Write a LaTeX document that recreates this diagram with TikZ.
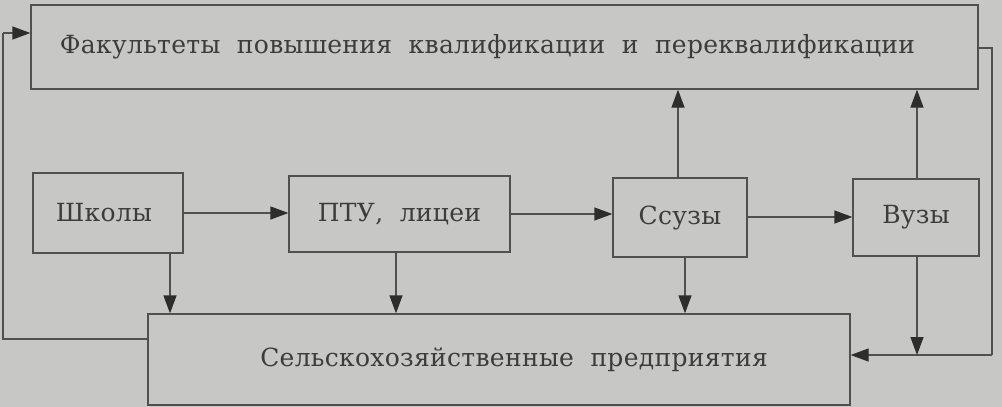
\documentclass[tikz,border=0pt]{standalone}
\usepackage{fontspec}
\setmainfont{DejaVu Serif}[LetterSpace=1.2,WordSpace=2]
\usetikzlibrary{arrows.meta,calc}
\definecolor{bg}{RGB}{199,199,197}
\definecolor{ln}{RGB}{80,80,80}
\definecolor{tx}{RGB}{60,60,60}
\definecolor{tip}{RGB}{45,45,45}
\tikzset{
  box/.style={draw=ln, line width=1.3pt, rectangle, inner sep=0pt, text=tx,
    font=\fontsize{25}{30}\selectfont},
  link/.style={draw=ln, line width=1.3pt},
  arr/.style={link, -{Triangle[length=18pt,width=13pt,fill=tip,color=tip]}},
}
\begin{document}
\begin{tikzpicture}[x=1pt,y=-1pt]
\fill[bg] (0,0) rectangle (1002,407);
\useasboundingbox (0,0) rectangle (1002,407);
\node[box, minimum width=947pt, minimum height=84pt] (top) at (504.5,47)
  {Факультеты повышения квалификации и переквалификации\hspace*{34pt}};
\node[box, minimum width=150pt, minimum height=80pt] (shk) at (108,213) {Школы\hspace*{8pt}};
\node[box, minimum width=221pt, minimum height=76pt] (ptu) at (399.5,214) {ПТУ, лицеи};
\node[box, minimum width=134pt, minimum height=79pt] (ssu) at (680,217.5) {Ссузы};
\node[box, minimum width=126pt, minimum height=77pt] (vuz) at (916,217.5) {Вузы};
\node[box, minimum width=702pt, minimum height=91pt] (bot) at (499,359.5)
  {\hspace*{30pt}Сельскохозяйственные предприятия};
\coordinate (L1) at (3,339);
\coordinate (L2) at (3,33);
\coordinate (R1) at (992,48);
\coordinate (R2) at (992,355);
\draw[link] (bot.west |- L1) -- (L1) -- (L2);
\draw[arr] (L2) -- (top.west |- L2);
\draw[link] (top.east |- R1) -- (R1) -- (R2);
\draw[arr] (R2) -- (bot.east |- R2);
\draw[arr] ([xshift=1pt]vuz.south) -- ([xshift=1pt]vuz.south |- R2);
\draw[arr] (shk.east) -- (ptu.west |- shk.east);
\draw[arr] (ptu.east) -- (ssu.west |- ptu.east);
\draw[arr] ([yshift=0.5pt]ssu.east) -- ([yshift=0.5pt]vuz.west |- ssu.east);
\draw[arr] ([xshift=62pt]shk.south) -- ([xshift=62pt]shk.south |- bot.north);
\draw[arr] ([xshift=-3.5pt]ptu.south) -- ([xshift=-3.5pt]ptu.south |- bot.north);
\draw[arr] ([xshift=5pt]ssu.south) -- ([xshift=5pt]ssu.south |- bot.north);
\draw[arr] ([xshift=-2pt]ssu.north) -- ([xshift=-2pt]ssu.north |- top.south);
\draw[arr] ([xshift=1pt]vuz.north) -- ([xshift=1pt]vuz.north |- top.south);
\end{tikzpicture}
\end{document}
